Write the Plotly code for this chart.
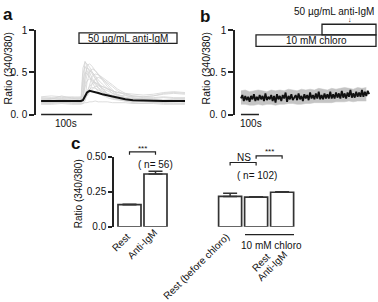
import plotly.graph_objects as go

W, H = 378, 302
FONT = "Liberation Sans, Arial, sans-serif"
INK = "#222222"

# ---------------- Panel a : Ca2+ ratio traces, anti-IgM ----------------
a_time = [0, 20, 40, 60, 78, 82, 86, 90, 95, 100, 106, 112, 120, 130, 140,
          150, 165, 180, 200, 220, 240, 260, 282]
a_mean = [0.16, 0.16, 0.155, 0.16, 0.16, 0.17, 0.22, 0.26, 0.28, 0.275, 0.265,
          0.255, 0.24, 0.225, 0.21, 0.195, 0.18, 0.17, 0.165, 0.16, 0.16, 0.16, 0.16]
a_cells = [
    [0.15, 0.16, 0.15, 0.16, 0.16, 0.55, 0.62, 0.60, 0.56, 0.50, 0.44, 0.38, 0.31, 0.25, 0.21, 0.19, 0.17, 0.16, 0.16, 0.16, 0.15, 0.16, 0.16],
    [0.17, 0.17, 0.18, 0.17, 0.17, 0.20, 0.45, 0.58, 0.60, 0.57, 0.52, 0.47, 0.40, 0.33, 0.27, 0.23, 0.20, 0.19, 0.18, 0.18, 0.17, 0.18, 0.18],
    [0.14, 0.15, 0.14, 0.15, 0.14, 0.15, 0.18, 0.38, 0.50, 0.54, 0.52, 0.48, 0.42, 0.35, 0.29, 0.24, 0.20, 0.18, 0.17, 0.16, 0.16, 0.15, 0.16],
    [0.16, 0.15, 0.16, 0.16, 0.15, 0.40, 0.50, 0.48, 0.44, 0.40, 0.36, 0.31, 0.26, 0.22, 0.19, 0.18, 0.17, 0.16, 0.16, 0.15, 0.16, 0.16, 0.15],
    [0.18, 0.19, 0.18, 0.19, 0.19, 0.19, 0.21, 0.25, 0.35, 0.45, 0.48, 0.47, 0.44, 0.40, 0.35, 0.30, 0.25, 0.22, 0.21, 0.22, 0.24, 0.25, 0.24],
    [0.13, 0.13, 0.14, 0.13, 0.13, 0.13, 0.14, 0.14, 0.15, 0.15, 0.16, 0.15, 0.15, 0.15, 0.14, 0.14, 0.14, 0.13, 0.13, 0.14, 0.13, 0.13, 0.13],
    [0.20, 0.19, 0.20, 0.21, 0.20, 0.22, 0.32, 0.40, 0.42, 0.41, 0.38, 0.35, 0.31, 0.28, 0.25, 0.23, 0.22, 0.21, 0.20, 0.20, 0.21, 0.20, 0.20],
    [0.16, 0.16, 0.17, 0.16, 0.16, 0.17, 0.19, 0.22, 0.28, 0.36, 0.42, 0.44, 0.42, 0.38, 0.33, 0.28, 0.23, 0.20, 0.18, 0.17, 0.17, 0.17, 0.17],
    [0.15, 0.14, 0.15, 0.15, 0.15, 0.48, 0.57, 0.52, 0.45, 0.38, 0.32, 0.27, 0.23, 0.20, 0.18, 0.17, 0.16, 0.15, 0.15, 0.15, 0.15, 0.15, 0.15],
    [0.17, 0.18, 0.22, 0.19, 0.17, 0.18, 0.20, 0.22, 0.26, 0.30, 0.33, 0.34, 0.33, 0.31, 0.28, 0.26, 0.24, 0.22, 0.21, 0.22, 0.25, 0.26, 0.25],
    [0.12, 0.12, 0.13, 0.12, 0.12, 0.13, 0.16, 0.24, 0.30, 0.32, 0.31, 0.29, 0.26, 0.23, 0.20, 0.18, 0.16, 0.14, 0.13, 0.13, 0.12, 0.12, 0.12],
    [0.19, 0.20, 0.19, 0.18, 0.19, 0.30, 0.63, 0.58, 0.50, 0.43, 0.37, 0.32, 0.28, 0.25, 0.23, 0.21, 0.20, 0.19, 0.19, 0.19, 0.20, 0.19, 0.19],
    [0.14, 0.14, 0.15, 0.14, 0.14, 0.16, 0.35, 0.47, 0.52, 0.50, 0.46, 0.41, 0.36, 0.30, 0.25, 0.22, 0.19, 0.17, 0.16, 0.15, 0.15, 0.16, 0.15],
    [0.21, 0.22, 0.21, 0.20, 0.21, 0.21, 0.23, 0.28, 0.33, 0.37, 0.38, 0.36, 0.33, 0.30, 0.28, 0.26, 0.25, 0.24, 0.23, 0.24, 0.26, 0.27, 0.26],
    [0.15, 0.15, 0.14, 0.15, 0.15, 0.25, 0.42, 0.55, 0.53, 0.48, 0.42, 0.36, 0.29, 0.24, 0.20, 0.18, 0.17, 0.16, 0.15, 0.15, 0.14, 0.15, 0.15],
]

# ---------------- Panel b : chloroquine pre-treatment ----------------
b_step = 8  # seconds between samples
b_mean = [0.19, 0.23, 0.16, 0.22, 0.17, 0.21, 0.15, 0.22, 0.18, 0.24,
          0.16, 0.21, 0.17, 0.23, 0.18, 0.22, 0.16, 0.25, 0.17, 0.21,
          0.18, 0.23, 0.16, 0.22, 0.14, 0.24, 0.18, 0.22, 0.16, 0.23,
          0.19, 0.26, 0.15, 0.22, 0.18, 0.24, 0.17, 0.21, 0.23, 0.17,
          0.25, 0.18, 0.22, 0.16, 0.24, 0.19, 0.23, 0.17, 0.26, 0.19,
          0.23, 0.18, 0.25, 0.19, 0.27, 0.18, 0.23, 0.18, 0.25, 0.19,
          0.24, 0.19, 0.27, 0.19, 0.24, 0.19, 0.26, 0.20, 0.25, 0.19,
          0.28, 0.20, 0.25, 0.19, 0.26, 0.21, 0.29, 0.20, 0.25, 0.20,
          0.27, 0.21, 0.26, 0.21, 0.29, 0.21, 0.27, 0.22, 0.28, 0.24]
b_band_step = 24
b_upper = [0.28, 0.29, 0.27, 0.28, 0.29, 0.28, 0.27, 0.29, 0.28, 0.29,
           0.28, 0.30, 0.29, 0.28, 0.30, 0.29, 0.30, 0.29, 0.31, 0.30,
           0.29, 0.31, 0.30, 0.31, 0.32, 0.31, 0.30, 0.32, 0.31, 0.32]
b_lower = [0.12, 0.12, 0.11, 0.11, 0.12, 0.11, 0.12, 0.12, 0.11, 0.12,
           0.12, 0.13, 0.13, 0.12, 0.12, 0.13, 0.13, 0.14, 0.14, 0.14,
           0.14, 0.14, 0.15, 0.15, 0.15, 0.16, 0.15, 0.16, 0.16, 0.16]

# ---------------- Panel c : summary bars ----------------
c_labels = ["Rest", "Anti-IgM", "Rest (before chloro)", "Rest", "Anti-IgM"]
c_pos = [0, 1, 3.87, 4.87, 5.87]
c_values = [0.158, 0.377, 0.217, 0.212, 0.247]
c_err = [0.003, 0.02, 0.023, 0.003, 0.004]

ab_ticks = [0, 0.5, 1]
ab_ticktext = ["0. 0", "0. 5", "1"]
c_ticks = [0, 0.25, 0.5]
c_ticktext = ["0.0", "0.25", "0.50"]


def PX(x):
    return x / W


def PY(y):
    return 1 - y / H


fig = go.Figure()

for cell in a_cells:
    fig.add_trace(go.Scatter(x=a_time, y=cell, mode="lines",
                             line=dict(color="#d4d4d4", width=0.8),
                             xaxis="x", yaxis="y", hoverinfo="skip"))
fig.add_trace(go.Scatter(x=a_time, y=a_mean, mode="lines",
                         line=dict(color="#111111", width=2),
                         xaxis="x", yaxis="y"))

b_band_t = [i * b_band_step for i in range(len(b_upper))]
fig.add_trace(go.Scatter(x=b_band_t, y=b_upper, mode="lines",
                         line=dict(color="#c4c4c4", width=0.5),
                         xaxis="x2", yaxis="y2", hoverinfo="skip"))
fig.add_trace(go.Scatter(x=b_band_t, y=b_lower, mode="lines", fill="tonexty",
                         fillcolor="#c4c4c4", line=dict(color="#c4c4c4", width=0.5),
                         xaxis="x2", yaxis="y2", hoverinfo="skip"))
b_t = [i * b_step for i in range(len(b_mean))]
fig.add_trace(go.Scatter(x=b_t, y=b_mean, mode="lines",
                         line=dict(color="#111111", width=1.8),
                         xaxis="x2", yaxis="y2"))

fig.add_trace(go.Bar(x=c_pos, y=c_values, width=0.885,
                     marker=dict(color="white", line=dict(color="#333333", width=1.7)),
                     error_y=dict(type="data", array=c_err, arrayminus=[0] * len(c_err),
                                  symmetric=False, color="#333333", thickness=1.5, width=7),
                     xaxis="x3", yaxis="y3"))

yax = dict(showline=True, linecolor=INK, linewidth=1.5, ticks="outside", ticklen=5,
           tickwidth=1.5, tickcolor=INK, showgrid=False, zeroline=False,
           tickfont=dict(size=10, color="#111"))
fig.update_layout(
    width=W, height=H, margin=dict(l=0, r=0, t=0, b=0),
    paper_bgcolor="white", plot_bgcolor="rgba(0,0,0,0)", showlegend=False,
    font=dict(family=FONT, color="#111", size=10),
    xaxis=dict(domain=[PX(36), PX(186)], range=[-10, 284], visible=False, anchor="y"),
    yaxis=dict(domain=[PY(113), PY(25)], range=[0, 1], tickvals=ab_ticks,
               ticktext=ab_ticktext, anchor="x", **yax),
    xaxis2=dict(domain=[PX(235), PX(376)], range=[-33, 750], visible=False, anchor="y2"),
    yaxis2=dict(domain=[PY(113), PY(25)], range=[0, 1], tickvals=ab_ticks,
                ticktext=ab_ticktext, anchor="x2", **yax),
    xaxis3=dict(domain=[PX(114), PX(300)], range=[-0.596, 6.558], visible=False, anchor="y3"),
    yaxis3=dict(domain=[PY(230), PY(157)], range=[0, 0.5], tickvals=c_ticks,
                ticktext=c_ticktext, anchor="x3", **dict(yax, ticklen=4)),
)


def cx(pos):
    return 114 + (pos + 0.596) * 26


shapes = []
line = dict(color=INK, width=1.2)
# scale bars
for xr in ("x", "x2"):
    shapes.append(dict(type="line", xref=xr, yref="paper", x0=0, x1=100,
                       y0=PY(113), y1=PY(113), line=dict(color=INK, width=1.5)))
# stimulus boxes
shapes.append(dict(type="rect", xref="paper", yref="paper", x0=PX(79), x1=PX(177),
                   y0=PY(39), y1=PY(28), line=dict(color=INK, width=1.3)))
shapes.append(dict(type="rect", xref="paper", yref="paper", x0=PX(322), x1=PX(376),
                   y0=PY(30), y1=PY(19), line=dict(color=INK, width=1.3)))
shapes.append(dict(type="rect", xref="paper", yref="paper", x0=PX(256), x1=PX(376),
                   y0=PY(42), y1=PY(30), line=dict(color=INK, width=1.3)))


def bracket(x0, x1, ytop, leg):
    return dict(type="path", xref="paper", yref="paper",
                path=f"M{PX(x0)},{PY(ytop + leg)} L{PX(x0)},{PY(ytop)} "
                     f"L{PX(x1)},{PY(ytop)} L{PX(x1)},{PY(ytop + leg)}",
                line=line)


shapes.append(bracket(cx(c_pos[0]), cx(c_pos[1]), 152, 3))
shapes.append(bracket(cx(c_pos[2]), cx(c_pos[3]), 163, 3))
shapes.append(bracket(cx(c_pos[3]), cx(c_pos[4]), 156, 3))
# chloro underline
shapes.append(dict(type="line", xref="paper", yref="paper", x0=PX(245), x1=PX(294),
                   y0=PY(238), y1=PY(238), line=dict(color=INK, width=1.3)))
fig.update_layout(shapes=shapes)

ann = []


def text(x, y, s, size=10, bold=False, angle=0, xa="center", ya="middle"):
    ann.append(dict(x=PX(x), y=PY(y), xref="paper", yref="paper", text=f"<b>{s}</b>" if bold else s,
                    showarrow=False, textangle=angle, xanchor=xa, yanchor=ya,
                    font=dict(size=size, family=FONT, color="#111")))


text(8, 9, "a", 17, bold=True)
text(205, 11, "b", 17, bold=True)
text(75, 143, "c", 17, bold=True)
text(8, 65, "Ratio (340/380)", 10.5, angle=-90)
text(206, 65, "Ratio (340/380)", 10.5, angle=-90)
text(78, 196, "Ratio (340/380)", angle=-90)
text(128, 33.5, "50 µg/mL anti-IgM")
text(316, 36, "10 mM chloro")
text(376, 6, "50 µg/mL anti-IgM", 10, xa="right")
text(350, 14, "↓", 7)
text(66, 122, "100s")
text(251, 122, "100s")
text(cx(0.5), 148, "***", 8)
text(155, 165, "( n= 56)")
text(244, 158, "NS")
text((cx(c_pos[3]) + cx(c_pos[4])) / 2, 152, "***", 8)
text(257, 177, "( n= 102)")
text(271, 249, "10 mM chloro")
# rotated category labels (centres of the rotated text)
label_centre = [(121, 246.5), (142, 248.5), (196, 271), (261, 267.5), (272, 271.5)]
for lab, (x, y) in zip(c_labels, label_centre):
    text(x, y, lab, angle=-45)
fig.update_layout(annotations=ann)

fig.write_html("out.html", config={"displayModeBar": False},
               post_script="document.body.style.margin='0px';"
                           "document.body.style.overflow='hidden';")
